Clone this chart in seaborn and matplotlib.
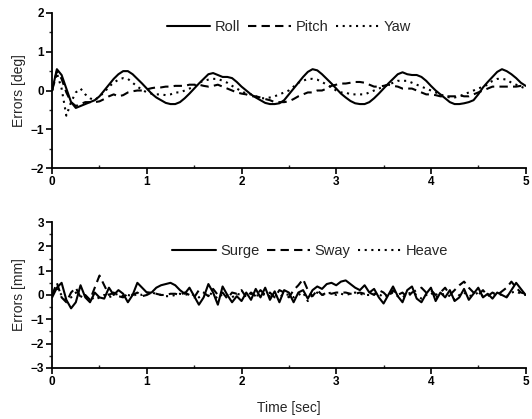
import numpy as np
import pandas as pd
import matplotlib
matplotlib.use("Agg")
import matplotlib.pyplot as plt
from matplotlib.ticker import MultipleLocator
import seaborn as sns

# ---------------- data ----------------
TIME_STEP = 0.05
angle_series = ["Roll", "Pitch", "Yaw"]
pos_series = ["Surge", "Sway", "Heave"]

roll = [0.00, 0.55, 0.40, 0.05, -0.30, -0.45, -0.40, -0.35, -0.30, -0.25,
        -0.15, 0.00, 0.15, 0.30, 0.42, 0.50, 0.50, 0.42, 0.30, 0.18,
        0.05, -0.08, -0.18, -0.25, -0.32, -0.35, -0.35, -0.30, -0.20, -0.08,
        0.05, 0.18, 0.30, 0.42, 0.45, 0.40, 0.35, 0.35, 0.32, 0.22,
        0.10, 0.00, -0.10, -0.18, -0.25, -0.32, -0.35, -0.35, -0.33, -0.25,
        -0.10, 0.05, 0.20, 0.35, 0.48, 0.55, 0.52, 0.42, 0.30, 0.18,
        0.05, -0.08, -0.18, -0.27, -0.33, -0.35, -0.35, -0.30, -0.20, -0.08,
        0.05, 0.18, 0.30, 0.42, 0.47, 0.42, 0.40, 0.40, 0.35, 0.25,
        0.12, 0.00, -0.10, -0.20, -0.30, -0.35, -0.35, -0.33, -0.30, -0.25,
        -0.10, 0.08, 0.22, 0.35, 0.48, 0.55, 0.50, 0.42, 0.32, 0.20,
        0.12]
pitch = [0.00, 0.50, 0.30, -0.05, -0.30, -0.40, -0.35, -0.30, -0.30, -0.30,
         -0.28, -0.22, -0.15, -0.10, -0.15, -0.12, -0.05, -0.02, 0.00, 0.00,
         0.03, 0.06, 0.08, 0.08, 0.10, 0.10, 0.12, 0.12, 0.12, 0.15,
         0.15, 0.15, 0.12, 0.10, 0.12, 0.15, 0.10, 0.05, 0.00, -0.05,
         -0.08, -0.10, -0.15, -0.15, -0.18, -0.22, -0.25, -0.30, -0.30, -0.30,
         -0.28, -0.22, -0.15, -0.10, -0.05, -0.05, 0.00, 0.00, 0.05, 0.12,
         0.15, 0.18, 0.18, 0.20, 0.22, 0.22, 0.20, 0.15, 0.10, 0.10,
         0.12, 0.15, 0.12, 0.10, 0.05, 0.05, 0.05, 0.00, -0.05, -0.10,
         -0.10, -0.12, -0.15, -0.15, -0.15, -0.15, -0.12, -0.15, -0.15, -0.10,
         -0.05, 0.00, 0.05, 0.10, 0.10, 0.10, 0.10, 0.10, 0.10, 0.12,
         0.10]
yaw = [0.00, 0.45, 0.05, -0.65, -0.30, -0.05, 0.05, -0.10, -0.20, -0.25,
       -0.15, -0.05, 0.10, 0.20, 0.28, 0.32, 0.30, 0.20, 0.10, 0.02,
       -0.05, -0.08, -0.10, -0.10, -0.12, -0.10, -0.05, -0.05, 0.00, 0.05,
       0.10, 0.20, 0.25, 0.28, 0.30, 0.30, 0.25, 0.20, 0.12, 0.05,
       -0.02, -0.08, -0.10, -0.15, -0.20, -0.20, -0.18, -0.15, -0.10, -0.05,
       0.00, 0.10, 0.20, 0.25, 0.30, 0.30, 0.28, 0.22, 0.15, 0.08,
       0.00, -0.05, -0.05, -0.10, -0.10, -0.10, -0.10, -0.05, 0.00, 0.05,
       0.10, 0.15, 0.20, 0.25, 0.25, 0.25, 0.20, 0.15, 0.10, 0.05,
       0.00, -0.05, -0.10, -0.15, -0.18, -0.18, -0.15, -0.10, -0.05, 0.00,
       0.05, 0.10, 0.15, 0.25, 0.30, 0.30, 0.28, 0.20, 0.15, 0.10,
       0.05]

surge = [-0.10, 0.30, 0.50, -0.20, -0.55, -0.30, 0.40, -0.10, -0.30, 0.10,
         -0.10, -0.15, 0.30, 0.00, 0.20, 0.05, -0.30, 0.00, 0.50, 0.30,
         0.10, 0.10, 0.30, 0.40, 0.45, 0.50, 0.40, 0.20, 0.05, 0.30,
         -0.05, -0.40, -0.10, 0.45, 0.10, -0.40, 0.35, 0.00, -0.30, -0.05,
         -0.25, 0.10, -0.20, 0.25, -0.10, 0.30, -0.20, 0.15, -0.30, 0.20,
         0.10, -0.30, 0.10, 0.20, -0.15, 0.20, 0.35, 0.25, 0.45, 0.50,
         0.40, 0.55, 0.60, 0.45, 0.30, 0.20, 0.40, 0.10, 0.25, -0.10,
         -0.35, 0.00, 0.35, -0.05, -0.30, 0.20, 0.35, -0.15, -0.30, 0.05,
         0.30, -0.25, 0.10, -0.10, 0.20, -0.25, -0.10, 0.25, -0.20, 0.05,
         0.30, -0.10, 0.05, -0.15, 0.10, 0.00, -0.10, 0.20, 0.50, 0.25,
         0.00]
sway = [0.00, 0.50, -0.10, -0.30, 0.10, 0.30, -0.10, 0.00, -0.20, 0.30,
        0.80, 0.40, 0.00, 0.10, -0.05, -0.10, 0.05, 0.00, 0.10, -0.05,
        0.00, 0.10, 0.05, 0.00, 0.00, 0.05, 0.05, 0.00, 0.10, 0.00,
        -0.10, 0.20, 0.10, -0.05, 0.25, 0.00, 0.10, -0.15, 0.10, 0.05,
        0.20, -0.10, 0.10, -0.05, 0.20, 0.00, 0.10, -0.10, 0.20, 0.10,
        -0.10, 0.20, 0.40, 0.65, 0.20, -0.05, 0.20, 0.00, 0.10, 0.05,
        0.10, 0.10, 0.10, 0.05, 0.05, 0.10, 0.05, 0.10, 0.00, 0.20,
        0.10, -0.10, 0.20, 0.00, 0.10, -0.10, 0.10, 0.20, 0.30, 0.10,
        0.20, 0.00, 0.10, 0.30, 0.00, 0.20, 0.40, 0.55, 0.30, 0.10,
        0.00, 0.20, -0.05, 0.10, 0.00, 0.15, 0.30, 0.55, 0.30, 0.10,
        0.05]
heave = [0.00, 0.25, 0.00, -0.20, -0.10, 0.10, -0.05, -0.15, -0.05, -0.20,
         -0.10, 0.00, -0.10, 0.00, 0.05, -0.05, 0.00, -0.05, 0.05, 0.00,
         0.10, 0.10, 0.05, 0.00, -0.05, -0.05, 0.00, 0.05, 0.00, 0.05,
         0.00, -0.10, 0.00, 0.10, 0.00, -0.15, 0.05, 0.00, -0.10, 0.05,
         0.00, -0.05, 0.05, 0.00, -0.05, 0.05, -0.05, 0.00, -0.10, 0.05,
         0.00, -0.10, 0.00, 0.10, -0.25, 0.00, 0.10, 0.00, 0.05, 0.10,
         0.00, 0.05, 0.00, 0.05, 0.10, 0.05, 0.00, 0.00, 0.05, 0.05,
         -0.10, 0.00, 0.10, -0.05, -0.10, 0.05, 0.10, 0.00, -0.15, 0.00,
         0.10, -0.10, 0.00, 0.05, -0.05, -0.20, 0.00, 0.10, -0.05, 0.00,
         0.10, -0.05, 0.00, -0.05, 0.05, 0.00, -0.05, 0.10, 0.15, 0.05,
         0.00]

x_ticks = [0, 1, 2, 3, 4, 5]
top_yticks = [-2, -1, 0, 1, 2]
bot_yticks = [-3, -2, -1, 0, 1, 2, 3]

# ---------------- build frames ----------------
def make_frame(names, arrays):
    rows = []
    for n, arr in zip(names, arrays):
        t = np.arange(len(arr)) * TIME_STEP
        rows.append(pd.DataFrame({"time": t, "value": arr, "series": n}))
    return pd.concat(rows, ignore_index=True)

df_top = make_frame(angle_series, [roll, pitch, yaw])
df_bot = make_frame(pos_series, [surge, sway, heave])

# ---------------- style ----------------
sns.set_theme(style="ticks")
plt.rcParams["font.family"] = ["Liberation Sans", "DejaVu Sans"]

fig = plt.figure(figsize=(5.32, 4.19), dpi=100)
ax1 = fig.add_axes([0.098, 0.599, 0.890, 0.370])
ax2 = fig.add_axes([0.098, 0.122, 0.890, 0.348])

def dash_map(names):
    return {names[0]: "", names[1]: (4, 2.5), names[2]: (1, 2.2)}

for ax, df, names, yt, ylabel in [
    (ax1, df_top, angle_series, top_yticks, "Errors [deg]"),
    (ax2, df_bot, pos_series, bot_yticks, "Errors [mm]"),
]:
    sns.lineplot(data=df, x="time", y="value", style="series",
                 style_order=names, dashes=dash_map(names),
                 color="black", linewidth=1.5, ax=ax, legend=True)
    ax.set_xlim(0, 5)
    ax.set_ylim(yt[0], yt[-1])
    ax.set_xticks(x_ticks)
    ax.set_yticks(yt)
    ax.xaxis.set_minor_locator(MultipleLocator(0.5))
    ax.yaxis.set_minor_locator(MultipleLocator(0.5))
    ax.tick_params(axis="both", which="major", direction="out", length=4,
                   width=1.2, labelsize=8.5, colors="black", pad=2)
    ax.tick_params(axis="both", which="minor", direction="out", length=2.5,
                   width=1.0)
    ax.tick_params(axis="x", which="minor", direction="in", length=2.5)
    for lab in ax.get_xticklabels() + ax.get_yticklabels():
        lab.set_fontweight("bold")
    ax.set_ylabel(ylabel, fontsize=10, labelpad=3)
    ax.set_xlabel("")
    for s in ["top", "right"]:
        ax.spines[s].set_visible(False)
    for s in ["left", "bottom"]:
        ax.spines[s].set_linewidth(1.3)
        ax.spines[s].set_color("black")
    handles, labels = ax.get_legend_handles_labels()
    ax.legend(handles, labels, ncol=3, frameon=False, loc="upper center",
              bbox_to_anchor=(0.50 if ax is ax1 else 0.545,
                              1.0 if ax is ax1 else 0.9),
              fontsize=10.5, handlelength=3.0, handletextpad=0.3,
              columnspacing=0.5, borderaxespad=0.1)

ax2.set_xlabel("Time [sec]", fontsize=10, labelpad=9)

fig.savefig("out.png", dpi=100, facecolor="white")
